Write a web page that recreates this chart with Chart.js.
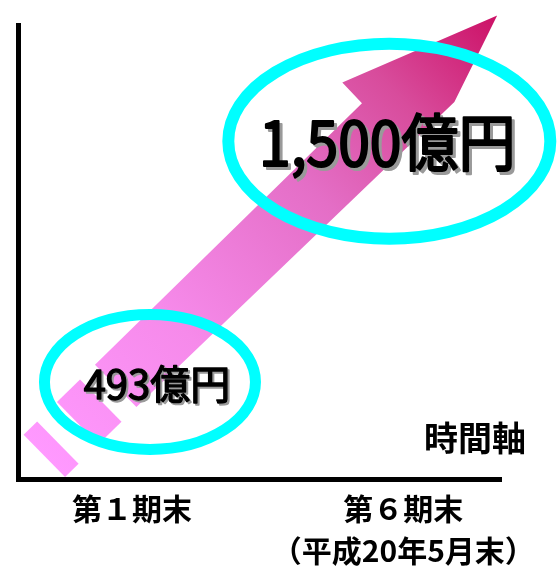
<!DOCTYPE html>
<html lang="ja">
<head>
<meta charset="utf-8">
<script src="https://cdn.jsdelivr.net/npm/chart.js@4/dist/chart.umd.min.js"></script>
<style>
  html, body { margin: 0; padding: 0; background: #fff; }
  #wrap { width: 558px; height: 569px; position: relative; }
</style>
</head>
<body>
<div id="wrap"><canvas id="growthChart"></canvas></div>
<script>
// period number and balance (億円)
const periods = [1, 6];
const periodLabels = [['第１期末'], ['第６期末', '（平成20年5月末）']];
const balances = [493, 1500];
const balanceLabels = ['493億円', '1,500億円'];
const axisTitle = '時間軸';

const JP = '"Noto Sans CJK JP", "Noto Sans CJK SC", sans-serif';

// callout look for each point (offset from the point, ellipse radii, text size)
const callouts = [
  { dx: 18, dy: 12, rx: 105.5, ry: 67.5, ring: 11, tdx: 25, tdy: 14, size: 40, sx: 1, thick: 1.4, shadow: 2 },
  { dx: -14, dy: 37, rx: 161, ry: 97.5, ring: 12, tdx: -16, tdy: 38, size: 62, sx: 0.92, thick: 2.2, shadow: 3 }
];

// arrow shape, in units of the distance between the two points
// s = along the arrow, t = across it
const HALF = 0.078;
function frame(p1, p2) {
  const dx = p2.x - p1.x, dy = p2.y - p1.y;
  const L = Math.hypot(dx, dy);
  const ux = dx / L, uy = dy / L, nx = -uy, ny = ux;
  return (s, t) => [p1.x + (s * ux + t * nx) * L, p1.y + (s * uy + t * ny) * L];
}

function poly(ctx, at, pts) {
  ctx.beginPath();
  pts.forEach((p, i) => {
    const [x, y] = at(p[0], p[1]);
    if (i === 0) ctx.moveTo(x, y); else ctx.lineTo(x, y);
  });
  ctx.closePath();
  ctx.fill();
}

const growthArrow = {
  id: 'growthArrow',
  beforeDatasetsDraw(chart) {
    const ctx = chart.ctx;
    const pts = chart.getDatasetMeta(0).data;
    const at = frame(pts[0], pts[1]);
    const [gx0, gy0] = at(-0.33, 0);
    const [gx1, gy1] = at(1.34, 0);
    const grad = ctx.createLinearGradient(gx0, gy0, gx1, gy1);
    grad.addColorStop(0, '#FF99FF');
    grad.addColorStop(0.3, '#F68AEA');
    grad.addColorStop(0.6, '#E46EC6');
    grad.addColorStop(0.8, '#D84C9C');
    grad.addColorStop(1, '#CC1166');
    ctx.save();
    ctx.fillStyle = grad;
    // dashes at the tail
    poly(ctx, at, [[-0.323, -HALF], [-0.273, -HALF], [-0.273, HALF], [-0.323, HALF]]);
    poly(ctx, at, [[-0.200, -HALF], [-0.115, -HALF], [-0.115, HALF], [-0.200, HALF]]);
    // body and head
    poly(ctx, at, [
      [-0.06, -HALF], [0.924, -HALF], [0.925, -0.153], [1.34, 0.006],
      [1.10, 0.09], [-0.06, HALF]
    ]);
    ctx.restore();
  },
  afterDatasetsDraw(chart) {
    const ctx = chart.ctx;
    const pts = chart.getDatasetMeta(0).data;
    ctx.save();
    pts.forEach((p, i) => {
      const c = callouts[i];
      ctx.beginPath();
      ctx.ellipse(p.x + c.dx, p.y + c.dy, c.rx, c.ry, 0, 0, Math.PI * 2);
      ctx.strokeStyle = '#00FFFF';
      ctx.lineWidth = c.ring;
      ctx.stroke();
    });
    pts.forEach((p, i) => {
      const c = callouts[i];
      const x = p.x + c.tdx, y = p.y + c.tdy;
      ctx.save();
      ctx.translate(x, y);
      ctx.scale(c.sx, 1);
      ctx.font = `${c.size}px ${JP}`;
      ctx.textAlign = 'center';
      ctx.textBaseline = 'middle';
      ctx.lineJoin = 'round';
      ctx.lineWidth = c.thick;
      // grey drop shadow first, then the black text
      ctx.fillStyle = ctx.strokeStyle = '#9a9a9a';
      ctx.fillText(balanceLabels[i], c.shadow / c.sx, c.shadow);
      ctx.strokeText(balanceLabels[i], c.shadow / c.sx, c.shadow);
      ctx.fillStyle = ctx.strokeStyle = '#000';
      ctx.fillText(balanceLabels[i], 0, 0);
      ctx.strokeText(balanceLabels[i], 0, 0);
      ctx.restore();
    });
    ctx.restore();
  },
  afterDraw(chart) {
    const ctx = chart.ctx;
    const area = chart.chartArea;
    ctx.save();
    ctx.font = `bold 34px ${JP}`;
    ctx.textAlign = 'right';
    ctx.textBaseline = 'middle';
    ctx.fillStyle = '#000';
    ctx.fillText(axisTitle, area.right + 25, area.bottom - 41);
    ctx.restore();
  }
};

new Chart(document.getElementById('growthChart'), {
  type: 'line',
  data: {
    datasets: [{
      label: '残高',
      data: periods.map((p, i) => ({ x: p, y: balances[i] })),
      showLine: false,
      pointRadius: 0,
      pointHoverRadius: 0
    }]
  },
  options: {
    responsive: true,
    maintainAspectRatio: false,
    animation: false,
    events: [],
    layout: { padding: { left: 18, right: 57, top: 25, bottom: 0 } },
    plugins: {
      legend: { display: false },
      tooltip: { enabled: false }
    },
    scales: {
      x: {
        type: 'linear',
        min: -1.1,
        max: 7.8,
        afterBuildTicks: (scale) => { scale.ticks = periods.map(v => ({ value: v })); },
        afterFit: (scale) => { scale.height = 90; },
        grid: { display: false, drawTicks: false },
        border: { display: true, color: '#000', width: 5 },
        ticks: {
          autoSkip: false,
          maxRotation: 0,
          minRotation: 0,
          padding: 9,
          color: '#000',
          font: { family: JP, size: 30, weight: 'bold', lineHeight: 1.4 },
          callback: (v) => periodLabels[periods.indexOf(v)] || ''
        }
      },
      y: {
        min: 80,
        max: 1800,
        grid: { display: false, drawTicks: false },
        border: { display: true, color: '#000', width: 5 },
        ticks: { display: false }
      }
    }
  },
  plugins: [growthArrow]
});
</script>
</body>
</html>
